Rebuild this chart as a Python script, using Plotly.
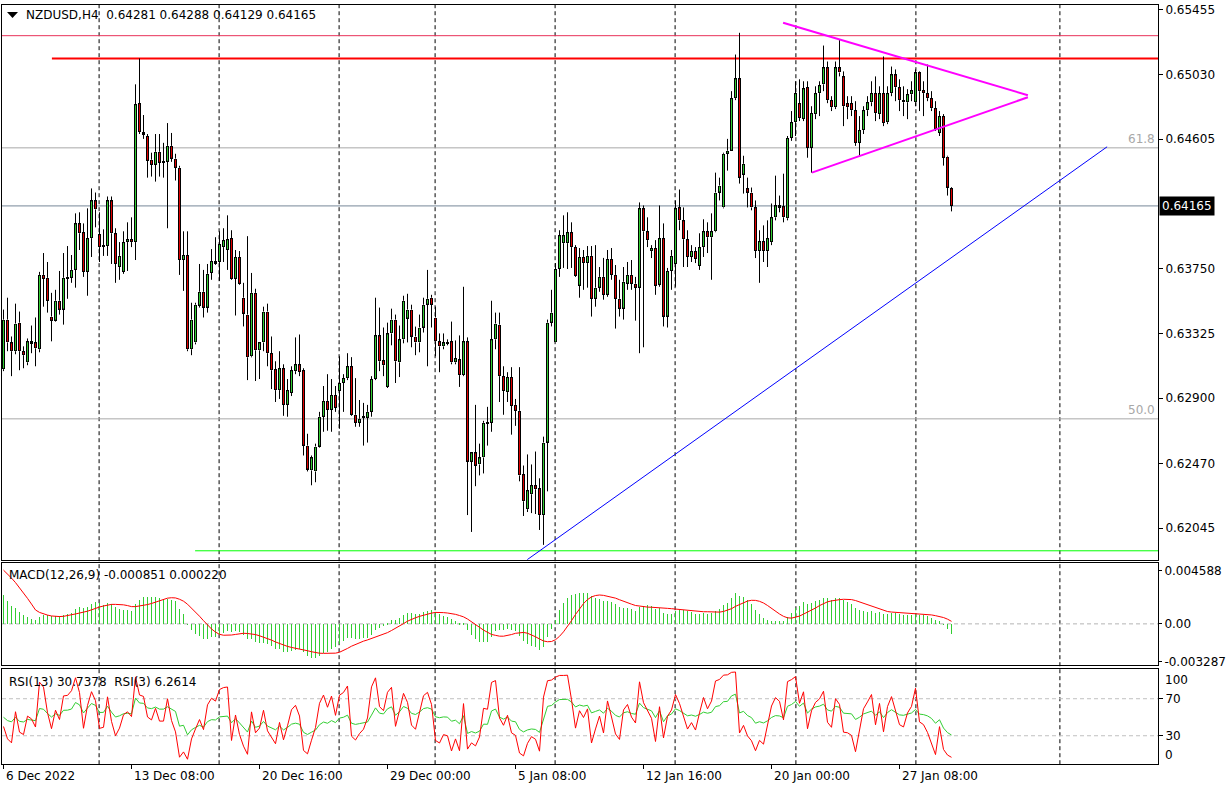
import plotly.graph_objects as go

# ---------------- data (NZDUSD H4) ----------------
open_ = [0.63091, 0.63417, 0.63267, 0.63209, 0.63397, 0.63209, 0.63136, 0.63274, 0.63267, 0.63222,
         0.63711, 0.63692, 0.63437, 0.63410, 0.63541, 0.63483, 0.63685, 0.63692, 0.63744, 0.64050,
         0.63992, 0.63731, 0.63953, 0.64201, 0.63979, 0.63907, 0.63901, 0.64201, 0.63985, 0.63763,
         0.63731, 0.63927, 0.63946, 0.63927, 0.64841, 0.64651, 0.64625, 0.64469, 0.64436, 0.64521,
         0.64455, 0.64455, 0.64560, 0.64476, 0.64416, 0.63809, 0.63842, 0.63222, 0.63267, 0.63509,
         0.63600, 0.63496, 0.63724, 0.63802, 0.63796, 0.63894, 0.63875, 0.63953, 0.63685, 0.63829,
         0.63561, 0.63450, 0.63176, 0.63593, 0.63215, 0.63267, 0.63470, 0.63196, 0.63091, 0.62953,
         0.63097, 0.62856, 0.62934, 0.63078, 0.63123, 0.63084, 0.62588, 0.62425, 0.62418, 0.62582,
         0.62778, 0.62882, 0.62823, 0.62921, 0.62947, 0.63000, 0.63032, 0.63110, 0.62791, 0.62738,
         0.62771, 0.62771, 0.62810, 0.63026, 0.63313, 0.63149, 0.62974, 0.63326, 0.63417, 0.63136,
         0.63287, 0.63424, 0.63483, 0.63306, 0.63267, 0.63365, 0.63515, 0.63561, 0.63431, 0.63274,
         0.63241, 0.63267, 0.63274, 0.63136, 0.63156, 0.63052, 0.63274, 0.62483, 0.62543, 0.62464,
         0.62510, 0.62738, 0.62738, 0.63287, 0.63384, 0.63045, 0.62940, 0.63039, 0.62856, 0.62817,
         0.62399, 0.62170, 0.62268, 0.62327, 0.62307, 0.62131, 0.62608, 0.63397, 0.63267, 0.63750,
         0.63920, 0.63920, 0.63992, 0.63894, 0.63640, 0.63829, 0.63789, 0.63836, 0.63554, 0.63627,
         0.63698, 0.63580, 0.63816, 0.63711, 0.63554, 0.63489, 0.63653, 0.63711, 0.63653, 0.63627,
         0.64149, 0.63998, 0.63868, 0.63888, 0.63646, 0.63953, 0.63437, 0.63737, 0.63783, 0.64155,
         0.64070, 0.63946, 0.63829, 0.63868, 0.63770, 0.63894, 0.63998, 0.63959, 0.63998, 0.64253,
         0.64155, 0.64508, 0.64528, 0.64874, 0.65004, 0.64371, 0.64280, 0.64253, 0.64155, 0.63868,
         0.63933, 0.63868, 0.63927, 0.64090, 0.64168, 0.64162, 0.64084, 0.64612, 0.64716, 0.64841,
         0.64737, 0.64946, 0.64547, 0.64769, 0.64907, 0.64965, 0.65076, 0.64861, 0.64815, 0.65076,
         0.65017, 0.64841, 0.64841, 0.64795, 0.64580, 0.64664, 0.64795, 0.64847, 0.64907, 0.64769,
         0.64907, 0.64716, 0.64907, 0.65030, 0.64946, 0.64861, 0.64847, 0.64900, 0.64847, 0.65043,
         0.64926, 0.64907, 0.64874, 0.64808, 0.64645, 0.64756, 0.64489, 0.64281]

high = [0.63483, 0.63561, 0.63306, 0.63522, 0.63470, 0.63241, 0.63293, 0.63378, 0.63431, 0.63731,
        0.63855, 0.63796, 0.63593, 0.63613, 0.63737, 0.63855, 0.63901, 0.63842, 0.64116, 0.64123,
        0.64050, 0.64149, 0.64280, 0.64253, 0.64123, 0.64011, 0.64227, 0.64227, 0.64018, 0.63927,
        0.63998, 0.64057, 0.64090, 0.64965, 0.65135, 0.64763, 0.64638, 0.64515, 0.64638, 0.64638,
        0.64580, 0.64710, 0.64645, 0.64508, 0.64429, 0.63998, 0.63998, 0.63528, 0.63528, 0.63783,
        0.63744, 0.63783, 0.63881, 0.63959, 0.63998, 0.64018, 0.64103, 0.64005, 0.63875, 0.63868,
        0.63659, 0.63966, 0.63724, 0.63620, 0.63267, 0.63502, 0.63522, 0.63306, 0.63143, 0.63209,
        0.63123, 0.63026, 0.63110, 0.63300, 0.63319, 0.63097, 0.62666, 0.62523, 0.62601, 0.62810,
        0.62980, 0.63058, 0.63026, 0.62980, 0.63176, 0.63058, 0.63196, 0.63170, 0.63032, 0.62888,
        0.62869, 0.62856, 0.63045, 0.63561, 0.63496, 0.63365, 0.63397, 0.63489, 0.63450, 0.63378,
        0.63574, 0.63587, 0.63515, 0.63371, 0.63450, 0.63561, 0.63744, 0.63580, 0.63502, 0.63326,
        0.63326, 0.63287, 0.63404, 0.63280, 0.63313, 0.63633, 0.63300, 0.62543, 0.62856, 0.62601,
        0.62751, 0.62843, 0.63541, 0.63463, 0.63463, 0.63110, 0.63071, 0.63104, 0.62895, 0.63104,
        0.62457, 0.62530, 0.62464, 0.62549, 0.62373, 0.62647, 0.63417, 0.63613, 0.63789, 0.64005,
        0.64103, 0.64123, 0.64057, 0.63907, 0.63888, 0.63875, 0.63901, 0.63901, 0.63907, 0.63763,
        0.63823, 0.63875, 0.63888, 0.63776, 0.63679, 0.63763, 0.63796, 0.63809, 0.63698, 0.64188,
        0.64168, 0.64090, 0.63907, 0.63940, 0.64168, 0.64050, 0.63757, 0.63875, 0.64201, 0.64273,
        0.64155, 0.64005, 0.63907, 0.63894, 0.63985, 0.64077, 0.64057, 0.64116, 0.64384, 0.64351,
        0.64515, 0.64606, 0.64920, 0.65161, 0.65304, 0.64495, 0.64351, 0.64286, 0.64201, 0.64005,
        0.64037, 0.64070, 0.64181, 0.64364, 0.64233, 0.64377, 0.64625, 0.64789, 0.64985, 0.64998,
        0.64985, 0.64985, 0.64821, 0.64952, 0.64985, 0.65220, 0.65115, 0.64887, 0.65115, 0.65259,
        0.65050, 0.64887, 0.64887, 0.64854, 0.64756, 0.64821, 0.64887, 0.64985, 0.65017, 0.64952,
        0.65148, 0.64952, 0.65082, 0.65063, 0.64998, 0.64952, 0.64933, 0.64985, 0.65063, 0.65050,
        0.64985, 0.65095, 0.64920, 0.64854, 0.64789, 0.64769, 0.64495, 0.64288]

low = [0.63078, 0.63209, 0.63045, 0.63189, 0.63084, 0.63097, 0.63117, 0.63196, 0.63110, 0.63202,
       0.63502, 0.63463, 0.63274, 0.63404, 0.63450, 0.63384, 0.63554, 0.63659, 0.63627, 0.63875,
       0.63698, 0.63574, 0.63829, 0.64024, 0.63796, 0.63836, 0.63836, 0.63783, 0.63659, 0.63679,
       0.63718, 0.63737, 0.63894, 0.63809, 0.64638, 0.64606, 0.64351, 0.64358, 0.64325, 0.64358,
       0.64351, 0.64018, 0.64455, 0.64332, 0.63711, 0.63606, 0.63209, 0.63183, 0.63254, 0.63496,
       0.63431, 0.63463, 0.63679, 0.63777, 0.63672, 0.63796, 0.63744, 0.63679, 0.63444, 0.63646,
       0.63372, 0.63019, 0.63169, 0.63013, 0.63026, 0.63209, 0.63110, 0.62960, 0.62875, 0.62895,
       0.62784, 0.62778, 0.62914, 0.63058, 0.63045, 0.62523, 0.62418, 0.62327, 0.62347, 0.62575,
       0.62679, 0.62686, 0.62679, 0.62810, 0.62699, 0.62810, 0.63019, 0.62784, 0.62712, 0.62712,
       0.62588, 0.62608, 0.62778, 0.63019, 0.63078, 0.63045, 0.62967, 0.63248, 0.63000, 0.63039,
       0.63261, 0.63267, 0.63235, 0.63183, 0.63202, 0.63332, 0.63110, 0.63365, 0.63176, 0.63071,
       0.63222, 0.63248, 0.63123, 0.63123, 0.62974, 0.63045, 0.62131, 0.62020, 0.62321, 0.62392,
       0.62405, 0.62588, 0.62679, 0.63222, 0.62875, 0.62791, 0.62875, 0.62660, 0.62718, 0.62353,
       0.62125, 0.62151, 0.62144, 0.62138, 0.62033, 0.61935, 0.62287, 0.63372, 0.63267, 0.63698,
       0.63757, 0.63750, 0.63757, 0.63698, 0.63561, 0.63613, 0.63627, 0.63437, 0.63502, 0.63600,
       0.63548, 0.63567, 0.63679, 0.63358, 0.63437, 0.63417, 0.63613, 0.63613, 0.63410, 0.63196,
       0.63235, 0.63894, 0.63822, 0.63580, 0.63633, 0.63372, 0.63365, 0.63613, 0.63633, 0.64005,
       0.63763, 0.63763, 0.63796, 0.63789, 0.63744, 0.63829, 0.63855, 0.63679, 0.63992, 0.64201,
       0.64149, 0.64397, 0.64528, 0.64861, 0.64312, 0.64246, 0.64155, 0.64136, 0.63822, 0.63659,
       0.63796, 0.63763, 0.63907, 0.64070, 0.64123, 0.64057, 0.64070, 0.64593, 0.64625, 0.64723,
       0.64723, 0.64482, 0.64384, 0.64736, 0.64756, 0.64920, 0.64841, 0.64789, 0.64802, 0.65017,
       0.64690, 0.64736, 0.64756, 0.64560, 0.64495, 0.64638, 0.64756, 0.64821, 0.64723, 0.64736,
       0.64690, 0.64703, 0.64887, 0.64854, 0.64789, 0.64756, 0.64736, 0.64854, 0.64821, 0.64789,
       0.64756, 0.64854, 0.64789, 0.64658, 0.64625, 0.64430, 0.64233, 0.64129]

close = [0.63417, 0.63267, 0.63209, 0.63391, 0.63209, 0.63183, 0.63274, 0.63261, 0.63228, 0.63711,
         0.63685, 0.63541, 0.63410, 0.63541, 0.63483, 0.63692, 0.63698, 0.63744, 0.64050, 0.63985,
         0.63731, 0.63953, 0.64201, 0.64142, 0.63894, 0.63901, 0.64201, 0.63985, 0.63783, 0.63836,
         0.63927, 0.63946, 0.63927, 0.64834, 0.64651, 0.64638, 0.64462, 0.64436, 0.64521, 0.64449,
         0.64449, 0.64560, 0.64476, 0.64416, 0.63809, 0.63842, 0.63222, 0.63417, 0.63515, 0.63600,
         0.63496, 0.63718, 0.63802, 0.63789, 0.63914, 0.63940, 0.63946, 0.63685, 0.63829, 0.63653,
         0.63457, 0.63169, 0.63593, 0.63215, 0.63267, 0.63470, 0.63196, 0.63084, 0.62953, 0.63097,
         0.62856, 0.62953, 0.63084, 0.63123, 0.63072, 0.62588, 0.62431, 0.62510, 0.62582, 0.62778,
         0.62882, 0.62823, 0.62921, 0.62836, 0.63000, 0.63032, 0.63110, 0.62791, 0.62738, 0.62764,
         0.62778, 0.62810, 0.63026, 0.63313, 0.63143, 0.63117, 0.63326, 0.63417, 0.63143, 0.63287,
         0.63541, 0.63483, 0.63306, 0.63267, 0.63365, 0.63515, 0.63554, 0.63515, 0.63274, 0.63241,
         0.63267, 0.63261, 0.63136, 0.63163, 0.63052, 0.63274, 0.62483, 0.62543, 0.62457, 0.62510,
         0.62738, 0.62732, 0.63287, 0.63391, 0.63045, 0.62947, 0.63039, 0.62849, 0.62817, 0.62392,
         0.62222, 0.62294, 0.62327, 0.62301, 0.62131, 0.62608, 0.63397, 0.63463, 0.63750, 0.63972,
         0.63972, 0.63992, 0.63894, 0.63705, 0.63829, 0.63789, 0.63836, 0.63554, 0.63627, 0.63698,
         0.63580, 0.63816, 0.63711, 0.63554, 0.63489, 0.63666, 0.63711, 0.63653, 0.63627, 0.64149,
         0.63998, 0.63940, 0.63888, 0.63640, 0.63953, 0.63437, 0.63737, 0.63836, 0.64149, 0.64070,
         0.63946, 0.63829, 0.63868, 0.63816, 0.63894, 0.63998, 0.63959, 0.63998, 0.64253, 0.64299,
         0.64508, 0.64528, 0.64874, 0.65004, 0.64351, 0.64442, 0.64253, 0.64155, 0.63868, 0.63933,
         0.63868, 0.63953, 0.64090, 0.64168, 0.64155, 0.64090, 0.64612, 0.64716, 0.64907, 0.64743,
         0.64939, 0.64547, 0.64776, 0.64907, 0.64959, 0.65076, 0.64861, 0.64815, 0.65076, 0.65043,
         0.64821, 0.64815, 0.64795, 0.64580, 0.64664, 0.64795, 0.64847, 0.64907, 0.64776, 0.64907,
         0.64710, 0.64907, 0.65030, 0.64946, 0.64861, 0.64847, 0.64900, 0.64926, 0.65043, 0.64920,
         0.64907, 0.64874, 0.64808, 0.64671, 0.64756, 0.64482, 0.64286, 0.64165]

# time axis labels (bar index -> label)
date_ticks = [0, 32, 64, 96, 128, 160, 192, 224]
date_labels = ["6 Dec 2022", "13 Dec 08:00", "20 Dec 16:00", "29 Dec 00:00",
               "5 Jan 08:00", "12 Jan 16:00", "20 Jan 00:00", "27 Jan 08:00"]
week_lines = [23.9, 53.9, 83.9, 107.9, 137.9, 167.9, 198.1, 228.1, 264.1]

price_ticks = [0.65455, 0.65030, 0.64605, 0.63750, 0.63325, 0.62900, 0.62470, 0.62045]
last_price = 0.64165

# drawn objects
res_thin = 0.65285
res_thick = 0.65135
res_thick_start = 12.1
fib_618 = 0.64547
fib_500 = 0.62764
support = 0.61896
support_start = 47.9
trend_x = [130.9, 275.9]
trend_y = [0.61837, 0.64554]
tri_up_x = [194.9, 256.1]
tri_up_y = [0.65370, 0.64893]
tri_lo_x = [202.1, 256.1]
tri_lo_y = [0.64384, 0.64880]

# indicator starting state
ema_fast_seed = 0.6365
ema_slow_seed = 0.6336
signal_seed = 0.0049
rsi13_seed = (0.0008, 0.0008)
rsi3_seed = (0.0006, 0.0009)

macd_ticks = [0.004588, 0.0, -0.003287]
macd_ticktext = ["0.004588", "0.00", "-0.003287"]

# ---------------- indicators ----------------
n = len(close)
xs = list(range(n))


def ema(vals, period, seed):
    a = 2.0 / (period + 1)
    e = seed
    out = []
    for v in vals:
        e = e + a * (v - e)
        out.append(e)
    return out


fast = ema(close, 12, ema_fast_seed)
slow = ema(close, 26, ema_slow_seed)
macd = [f - s for f, s in zip(fast, slow)]
hist_pad = [signal_seed] * 8 + macd
signal = [sum(hist_pad[i:i + 9]) / 9.0 for i in range(n)]


def rsi(vals, period, seed):
    ag, al = seed
    out = []
    prev = None
    for v in vals:
        if prev is not None:
            ch = v - prev
            ag = (ag * (period - 1) + max(ch, 0.0)) / period
            al = (al * (period - 1) + max(-ch, 0.0)) / period
        prev = v
        out.append(100.0 * ag / (ag + al) if ag + al > 0 else 50.0)
    return out


rsi13 = rsi(close, 13, rsi13_seed)
rsi3 = rsi(close, 3, rsi3_seed)

# ---------------- layout geometry ----------------
W, H = 1229, 795
FONT = "DejaVu Sans"


def px(x):
    return x / W


def py(y):
    return 1 - y / H


xr = [-0.375, 288.625]
yr = [0.61837, 0.65487]
xdom = [px(2), px(1158)]
main_dom = [py(562), py(3)]
macd_dom = [py(668), py(565)]
rsi_dom = [py(768), py(672)]

# one screen pixel expressed in price units on the main panel (for the body outline)
pix = (yr[1] - yr[0]) / (562 - 3)

GREEN = "#32CD32"
RED = "#E00000"

fig = go.Figure()

body_lo = [min(o, c) for o, c in zip(open_, close)]
body_hi = [max(o, c) for o, c in zip(open_, close)]

# candle bodies (black, 3 px wide)
body_h = [max(h - l, pix) for l, h in zip(body_lo, body_hi)]
fig.add_trace(go.Bar(x=xs, y=body_h, base=body_lo, width=0.75,
                     marker=dict(color="black", line=dict(width=0)),
                     xaxis="x", yaxis="y", showlegend=False, hoverinfo="skip"))

# candle wicks (upper and lower parts, outside the body)
wx, wy = [], []
for i in xs:
    wx += [i, i, None, i, i, None]
    wy += [low[i], body_lo[i], None, body_hi[i], high[i], None]
fig.add_trace(go.Scatter(x=wx, y=wy, mode="lines", line=dict(color="black", width=1),
                         xaxis="x", yaxis="y", showlegend=False, hoverinfo="skip"))

# coloured 1 px core inside each body
gx_, gy_, rx_, ry_ = [], [], [], []
for i in xs:
    if body_hi[i] - body_lo[i] > 2.5 * pix:
        seg_y = [body_lo[i] + pix, body_hi[i] - pix, None]
        if close[i] >= open_[i]:
            gx_ += [i, i, None]
            gy_ += seg_y
        else:
            rx_ += [i, i, None]
            ry_ += seg_y
fig.add_trace(go.Scatter(x=gx_, y=gy_, mode="lines", line=dict(color=GREEN, width=1),
                         xaxis="x", yaxis="y", showlegend=False, hoverinfo="skip"))
fig.add_trace(go.Scatter(x=rx_, y=ry_, mode="lines", line=dict(color=RED, width=1),
                         xaxis="x", yaxis="y", showlegend=False, hoverinfo="skip"))

fig.add_trace(go.Bar(x=xs, y=macd, width=0.25, marker=dict(color=GREEN, line=dict(width=0)),
                     xaxis="x2", yaxis="y2", showlegend=False, hoverinfo="skip"))
fig.add_trace(go.Scatter(x=xs, y=signal, mode="lines", line=dict(color="red", width=1),
                         xaxis="x2", yaxis="y2", showlegend=False, hoverinfo="skip"))

fig.add_trace(go.Scatter(x=xs, y=rsi13, mode="lines", line=dict(color=GREEN, width=1),
                         xaxis="x3", yaxis="y3", showlegend=False, hoverinfo="skip"))
fig.add_trace(go.Scatter(x=xs, y=rsi3, mode="lines", line=dict(color="red", width=1),
                         xaxis="x3", yaxis="y3", showlegend=False, hoverinfo="skip"))

# trend / pattern lines
fig.add_trace(go.Scatter(x=trend_x, y=trend_y, mode="lines", line=dict(color="#0000FF", width=1),
                         xaxis="x", yaxis="y", showlegend=False, hoverinfo="skip"))
fig.add_trace(go.Scatter(x=tri_up_x, y=tri_up_y, mode="lines", line=dict(color="#FF00FF", width=2),
                         xaxis="x", yaxis="y", showlegend=False, hoverinfo="skip"))
fig.add_trace(go.Scatter(x=tri_lo_x, y=tri_lo_y, mode="lines", line=dict(color="#FF00FF", width=2),
                         xaxis="x", yaxis="y", showlegend=False, hoverinfo="skip"))

axis_common = dict(showgrid=False, zeroline=False, showline=True, mirror=True,
                   linecolor="black", linewidth=1, fixedrange=True)
tick_font = dict(family=FONT, size=12, color="black")

fig.update_layout(
    width=W, height=H, margin=dict(l=0, r=0, t=0, b=0, pad=0),
    paper_bgcolor="white", plot_bgcolor="white", showlegend=False,
    barmode="overlay", bargap=0,
    font=dict(family=FONT, size=12, color="black"),
    xaxis=dict(domain=xdom, range=xr, anchor="y", showticklabels=False,
               rangeslider=dict(visible=False), **axis_common),
    yaxis=dict(domain=main_dom, range=yr, anchor="x", side="right",
               tickvals=price_ticks, ticktext=[f"{v:.5f}" for v in price_ticks],
               ticks="outside", ticklen=4, tickcolor="black", tickfont=tick_font,
               **axis_common),
    xaxis2=dict(domain=xdom, range=xr, anchor="y2", showticklabels=False, **axis_common),
    yaxis2=dict(domain=macd_dom, range=[-0.003544, 0.005273], anchor="x2", side="right",
                tickvals=macd_ticks, ticktext=macd_ticktext, ticks="outside", ticklen=3,
                tickcolor="black", tickfont=tick_font, **axis_common),
    xaxis3=dict(domain=xdom, range=xr, anchor="y3", showticklabels=False,
                tickvals=date_ticks, ticks="outside", ticklen=4, tickcolor="black",
                **axis_common),
    yaxis3=dict(domain=rsi_dom, range=[-0.75, 102.2], anchor="x3", side="right",
                tickvals=[70, 30], ticktext=["70", "30"], ticks="outside", ticklen=4,
                tickcolor="black", tickfont=tick_font, **axis_common),
)

shapes = []
# weekly dashed separators
for gx in week_lines:
    shapes.append(dict(type="line", xref="x", yref="paper", x0=gx, x1=gx,
                       y0=py(768), y1=py(3), layer="below",
                       line=dict(color="black", width=1, dash="4px,3px")))


def hline(yv, x0, color, width):
    return dict(type="line", xref="x", yref="y", x0=x0, x1=xr[1], y0=yv, y1=yv,
                layer="below", line=dict(color=color, width=width))


shapes += [
    hline(res_thin, xr[0], "#E8325A", 1),
    hline(res_thick, res_thick_start, "#FF0000", 2),
    hline(fib_618, xr[0], "#A8A8A8", 1),
    hline(fib_500, xr[0], "#A8A8A8", 1),
    hline(last_price, xr[0], "#778899", 1),
    hline(support, support_start, "#00FF00", 1),
    dict(type="line", xref="x2", yref="y2", x0=xr[0], x1=xr[1], y0=0, y1=0, layer="below",
         line=dict(color="#B4B4B4", width=1, dash="4px,3px")),
    dict(type="line", xref="x3", yref="y3", x0=xr[0], x1=xr[1], y0=70, y1=70, layer="below",
         line=dict(color="#C0C0C0", width=1, dash="4px,3px")),
    dict(type="line", xref="x3", yref="y3", x0=xr[0], x1=xr[1], y0=30, y1=30, layer="below",
         line=dict(color="#C0C0C0", width=1, dash="4px,3px")),
    # small title triangle
    dict(type="path", xref="paper", yref="paper",
         path=f"M {px(7)} {py(10)} L {px(18)} {py(10)} L {px(12.5)} {py(16)} Z",
         fillcolor="black", line=dict(color="black", width=0)),
]
fig.update_layout(shapes=shapes)

ann = [
    dict(xref="paper", yref="paper", x=px(24), y=py(13), xanchor="left", yanchor="middle",
         text="NZDUSD,H4  0.64281 0.64288 0.64129 0.64165", showarrow=False,
         font=dict(family=FONT, size=12, color="black")),
    dict(xref="paper", yref="paper", x=px(7), y=py(577), xanchor="left", yanchor="middle",
         text="MACD(12,26,9) -0.000851 0.000220", showarrow=False,
         font=dict(family=FONT, size=12, color="black")),
    dict(xref="paper", yref="paper", x=px(7), y=py(685), xanchor="left", yanchor="middle",
         text="RSI(13) 30.7378  RSI(3) 6.2614", showarrow=False,
         font=dict(family=FONT, size=12, color="black")),
    dict(xref="paper", yref="y", x=px(1157), y=fib_618, xanchor="right", yanchor="bottom",
         text="61.8", showarrow=False, font=dict(family=FONT, size=12, color="#A8A8A8")),
    dict(xref="paper", yref="y", x=px(1157), y=fib_500, xanchor="right", yanchor="bottom",
         text="50.0", showarrow=False, font=dict(family=FONT, size=12, color="#A8A8A8")),
    dict(xref="paper", yref="y", x=px(1159), y=last_price, xanchor="left", yanchor="middle",
         text="0.64165", showarrow=False, bgcolor="black", borderpad=2,
         font=dict(family=FONT, size=12, color="white")),
    dict(xref="paper", yref="paper", x=px(1163), y=py(683), xanchor="left", yanchor="middle",
         text="100", showarrow=False, font=dict(family=FONT, size=12, color="black")),
    dict(xref="paper", yref="paper", x=px(1163), y=py(759), xanchor="left", yanchor="middle",
         text="0", showarrow=False, font=dict(family=FONT, size=12, color="black")),
]
for t, lab in zip(date_ticks, date_labels):
    ann.append(dict(xref="x3", yref="paper", x=t, y=py(780), xanchor="left", yanchor="middle",
                    text=lab, showarrow=False, font=dict(family=FONT, size=12, color="black")))
fig.update_layout(annotations=ann)

fig.write_html("out.html", config={"displayModeBar": False},
               post_script="document.body.style.margin='0px';")
